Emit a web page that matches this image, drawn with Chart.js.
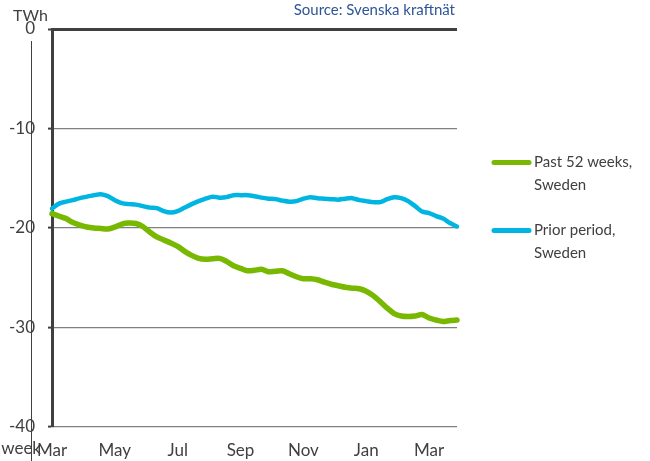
<!DOCTYPE html>
<html><head><meta charset="utf-8">
<script src="https://cdn.jsdelivr.net/npm/chart.js@4/dist/chart.umd.min.js"></script>
<style>html,body{margin:0;padding:0;background:#fff;}#wrap{width:650px;height:461px;}</style>
</head><body><div id="wrap"><canvas id="c" width="650" height="461"></canvas></div>
<script>
const monthLabels = ["Mar","May","Jul","Sep","Nov","Jan","Mar"];
const labelEvery = 9;
const past52 = [-18.55,-18.8,-19.05,-19.45,-19.7,-19.9,-20.0,-20.05,-20.1,-19.9,
  -19.6,-19.5,-19.55,-19.85,-20.4,-20.9,-21.2,-21.5,-21.85,-22.35,
  -22.75,-23.05,-23.15,-23.1,-23.05,-23.35,-23.8,-24.05,-24.3,-24.25,
  -24.15,-24.4,-24.35,-24.3,-24.6,-24.9,-25.1,-25.1,-25.2,-25.45,
  -25.65,-25.8,-25.95,-26.05,-26.1,-26.35,-26.8,-27.4,-28.05,-28.6,
  -28.85,-28.9,-28.85,-28.7,-29.05,-29.25,-29.4,-29.3,-29.25];
const prior = [-18.05,-17.55,-17.35,-17.2,-17.0,-16.85,-16.7,-16.6,-16.8,-17.2,
  -17.5,-17.6,-17.65,-17.8,-17.95,-18.0,-18.3,-18.45,-18.3,-17.95,
  -17.6,-17.3,-17.05,-16.85,-16.95,-16.9,-16.7,-16.7,-16.7,-16.8,
  -16.95,-17.05,-17.1,-17.25,-17.35,-17.3,-17.05,-16.9,-17.0,-17.05,
  -17.1,-17.15,-17.05,-17.0,-17.2,-17.3,-17.4,-17.4,-17.1,-16.9,
  -17.0,-17.3,-17.8,-18.35,-18.5,-18.8,-19.05,-19.5,-19.85];
const yMin = -40, yMax = 0, yStep = 10;
const seriesNames = [["Past 52 weeks,","Sweden"],["Prior period,","Sweden"]];
const seriesColors = ["#78B800","#00B5E2"];
const unitLabel = "TWh";
const xTitle = "week";
const sourceText = "Source: Svenska kraftnät";

const weeks = past52.map((_, i) => i % labelEvery === 0 ? monthLabels[i / labelEvery] : "");
const FONT = "Lato";
const TXT = "#404040";

const extras = {
  id: "extras",
  afterDraw(chart) {
    const ctx = chart.ctx;
    const ca = chart.chartArea;
    ctx.save();
    ctx.strokeStyle = TXT; ctx.lineWidth = 1;
    ctx.beginPath(); ctx.moveTo(31.5, 41); ctx.lineTo(31.5, 461); ctx.stroke();
    ctx.fillStyle = TXT; ctx.font = "16px " + FONT;
    ctx.textAlign = "center"; ctx.textBaseline = "middle";
    ctx.fillText(unitLabel, 30.5, 15.5);
    ctx.font = "17px " + FONT; ctx.textAlign = "right";
    ctx.fillText(xTitle, 41, 449);
    ctx.fillStyle = "#2E5597"; ctx.font = "15px " + FONT;
    ctx.textAlign = "right";
    ctx.fillText(sourceText, ca.right - 2, 10);
    chart.data.datasets.forEach((ds, i) => {
      const y = 162.5 + i * 68;
      ctx.strokeStyle = ds.borderColor; ctx.lineWidth = 5; ctx.lineCap = "round";
      ctx.beginPath(); ctx.moveTo(494, y); ctx.lineTo(529, y); ctx.stroke();
      ctx.fillStyle = TXT; ctx.font = "15px " + FONT; ctx.textAlign = "left";
      ds.label.forEach((t, j) => ctx.fillText(t, 534, y + j * 22.5));
    });
    ctx.restore();
  }
};

new Chart(document.getElementById("c"), {
  type: "line",
  data: {
    labels: weeks,
    datasets: [
      { label: seriesNames[0], data: past52, borderColor: seriesColors[0], borderWidth: 5.5,
        pointRadius: 0, tension: 0.3, borderCapStyle: "round", borderJoinStyle: "round", clip: 6 },
      { label: seriesNames[1], data: prior, borderColor: seriesColors[1], borderWidth: 4.5,
        pointRadius: 0, tension: 0.3, borderCapStyle: "round", borderJoinStyle: "round", clip: 6 }
    ]
  },
  options: {
    responsive: false, devicePixelRatio: 1, animation: false,
    layout: { padding: { left: 0, top: 29, right: 193, bottom: 0 } },
    plugins: { legend: { display: false }, tooltip: { enabled: false } },
    scales: {
      x: {
        type: "category",
        grid: { display: false, drawTicks: false },
        border: { display: false },
        ticks: { autoSkip: false, maxRotation: 0, minRotation: 0, padding: 13,
          color: TXT, font: { family: FONT, size: 17 } },
        afterFit(s) { s.height = 34; }
      },
      y: {
        min: yMin, max: yMax,
        ticks: { stepSize: yStep, padding: 13, color: TXT, font: { family: FONT, size: 17 } },
        grid: {
          color: c => c.tick && c.tick.value === 0 ? "#404040" : "#808080",
          lineWidth: c => c.tick && c.tick.value === 0 ? 3 : 1.2,
          tickLength: 4, tickColor: "#404040", tickWidth: 2
        },
        border: { display: true, color: "#404040", width: 3 },
        afterFit(s) { s.width = 52; }
      }
    }
  },
  plugins: [extras]
});
</script>
</body></html>
